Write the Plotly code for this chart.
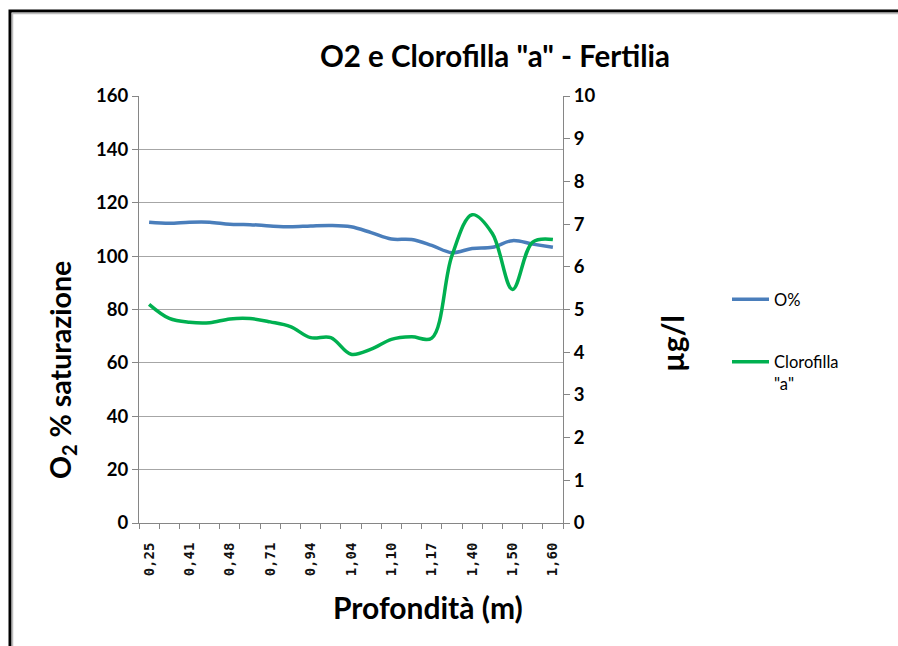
import plotly.graph_objects as go

# ---- data ----
sample_index = list(range(21))
depth_labels = ['0,25', '0,41', '0,48', '0,71', '0,94', '1,04', '1,10', '1,17', '1,40', '1,50', '1,60']
label_index = [0, 2, 4, 6, 8, 10, 12, 14, 16, 18, 20]
o2_sat = [112.7, 112.3, 112.7, 112.7, 111.9, 111.8, 111.3, 111.0, 111.3, 111.5, 111.0,
          108.8, 106.4, 106.2, 104.0, 101.3, 102.9, 103.3, 105.8, 104.5, 103.3]
chl_a = [5.12, 4.79, 4.70, 4.69, 4.78, 4.79, 4.71, 4.60, 4.34, 4.34, 3.95,
         4.07, 4.30, 4.36, 4.33, 6.26, 7.22, 6.78, 5.47, 6.58, 6.64]
o2_ticks = [0, 20, 40, 60, 80, 100, 120, 140, 160]
chl_ticks = list(range(0, 11))

W, H = 898, 646
L, R, T, B = 139, 335, 96, 123
PW, PH = W - L - R, H - T - B


def px(x):
    return (x - L) / PW


def py(y):
    return (H - B - y) / PH


FONT = "Lato"
AX = "#868686"

fig = go.Figure()
fig.add_trace(go.Scatter(x=sample_index, y=o2_sat, name="O%", mode="lines",
                         line=dict(color="#4A7EBB", width=3.5, shape="spline"),
                         yaxis="y", legendgroup="a"))
fig.add_trace(go.Scatter(x=sample_index, y=chl_a, name='Clorofilla<br>"a"', mode="lines",
                         line=dict(color="#00B050", width=3.5, shape="spline"),
                         yaxis="y2", legendgroup="b"))

minor_vals = [i - 0.5 for i in range(len(sample_index) + 1)]

fig.update_layout(
    width=W, height=H,
    margin=dict(l=L, r=R, t=T, b=B, pad=0),
    paper_bgcolor="white", plot_bgcolor="white",
    font=dict(family=FONT, color="black"),
    title=dict(text='O2 e Clorofilla "a" - Fertilia', xref="container", x=495 / W, xanchor="center",
               yref="container", y=1 - 57 / H, yanchor="middle",
               font=dict(family=FONT, size=29.5, color="black", weight="bold")),
    xaxis=dict(range=[-0.5, 20.5], tickmode="array", tickvals=label_index, ticktext=depth_labels,
               tickangle=-90, tickfont=dict(family="DejaVu Sans Mono", size=14, color="#111", weight="bold"),
               ticks="outside", ticklen=5, tickcolor="rgba(0,0,0,0)", ticklabelstandoff=8,
               showline=True, linecolor=AX, linewidth=1, showgrid=False, zeroline=False,
               minor=dict(tickvals=minor_vals, ticks="outside", ticklen=5, tickcolor=AX, showgrid=False)),
    yaxis=dict(range=[0, 160], tickmode="array", tickvals=o2_ticks,
               tickfont=dict(family=FONT, size=18.5, color="black", weight="bold"),
               ticks="outside", ticklen=6, tickcolor=AX, showline=True, linecolor=AX, linewidth=1,
               showgrid=True, gridcolor="#A6A6A6", gridwidth=1, zeroline=False),
    yaxis2=dict(range=[0, 10], tickmode="array", tickvals=chl_ticks, overlaying="y", side="right",
                tickfont=dict(family=FONT, size=18.5, color="black", weight="bold"),
                ticks="outside", ticklen=6, tickcolor=AX, showline=True, linecolor=AX, linewidth=1,
                showgrid=False, zeroline=False),
    legend=dict(x=px(727), y=py(282), xanchor="left", yanchor="top",
                font=dict(family=FONT, size=16.5, color="black"),
                valign="top", tracegroupgap=38, itemwidth=37, bgcolor="rgba(0,0,0,0)"),
    showlegend=True,
)

annots = [
    dict(text="Profondità (m)", x=px(428), y=py(607), font=dict(size=30, weight="bold")),
    dict(text="O<sub>2</sub> % saturazione", x=px(62), y=py(370), textangle=-90,
         font=dict(size=28.5, weight="bold")),
    dict(text="µg/l", x=px(672), y=py(344), textangle=-90, font=dict(size=30, weight="bold")),
]
for a in annots:
    a.update(xref="paper", yref="paper", showarrow=False, xanchor="center", yanchor="middle")
    a["font"].update(family=FONT, color="black")
fig.update_layout(annotations=annots)

# chart frame (left & top borders)
fig.add_shape(type="path", xref="paper", yref="paper",
              path=f"M {px(10)} {py(660)} L {px(10)} {py(11)} L {px(910)} {py(11)}",
              line=dict(color="black", width=3))
fig.add_shape(type="path", xref="paper", yref="paper",
              path=f"M {px(12.5)} {py(660)} L {px(12.5)} {py(13.5)} L {px(910)} {py(13.5)}",
              line=dict(color="#BDBDBD", width=1.5))

fig.write_html("out.html")
